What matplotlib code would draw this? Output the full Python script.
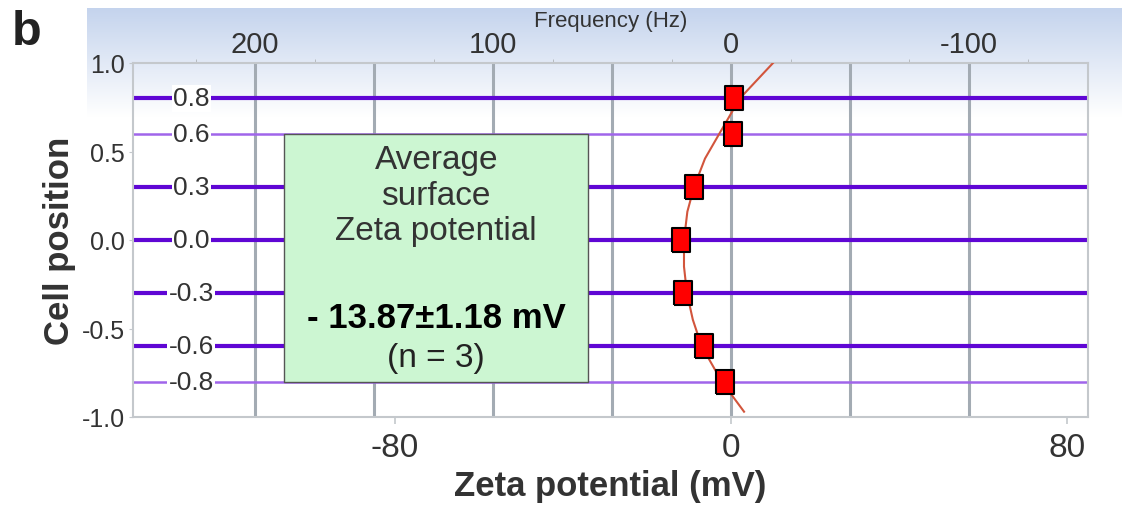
import numpy as np
import matplotlib.pyplot as plt
from matplotlib.path import Path

# measurement planes (cell position) and the zeta potential found at each
positions = [0.8, 0.6, 0.3, 0.0, -0.3, -0.6, -0.8]
position_labels = ["0.8", "0.6", "0.3", "0.0", "-0.3", "-0.6", "-0.8"]
thick_line = [True, False, True, True, True, True, False]
zeta = [0.6, 0.5, -8.7, -12.0, -11.5, -6.4, -1.5]

# fitted curve
fit_pos = [1.0, 0.8, 0.6, 0.46, 0.3, 0.16, 0.0, -0.15, -0.3, -0.45, -0.6, -0.8, -0.97]
fit_zeta = [10.0, 2.1, -2.8, -6.2, -8.8, -10.4, -11.2, -11.2, -10.5, -9.1, -7.0, -2.2, 3.1]

freq_ticks = [200, 100, 0, -100]
freq_minor = [225, 175, 125, 75, 25, -25, -75, -125]
freq_grid = [200, 150, 100, 50, 0, -50, -100]
zeta_ticks = [-80, 0, 80]
y_ticks = [-1.0, -0.5, 0.0, 0.5, 1.0]
y_ticklabels = ["-1.0", "-0.5", "0.0", "0.5", "1.0"]

hz_per_mv = 1.765

box_title = "Average\nsurface\nZeta potential"
box_value = "- 13.87\u00b11.18 mV"
box_n = "(n = 3)"

plt.rcParams["font.family"] = ["Liberation Sans", "DejaVu Sans"]
plt.rcParams["axes.unicode_minus"] = False

fig = plt.figure(figsize=(11.22, 5.1), dpi=100)

# blue gradient band across the top
band = fig.add_axes([87 / 1122, 1 - 118 / 510, 1 - 87 / 1122, 109 / 510], zorder=0)
grad = np.linspace(0, 1, 256).reshape(-1, 1)
top = np.array([0.77, 0.83, 0.93])
rgb = top[None, None, :] * (1 - grad[:, :, None]) + np.ones(3)[None, None, :] * grad[:, :, None]
band.imshow(rgb, aspect="auto", extent=[0, 1, 0, 1])
band.axis("off")

ax = fig.add_axes([133 / 1122, 1 - 418 / 510, (1088 - 133) / 1122, (418 - 64) / 510], zorder=1)
ax.set_facecolor("none")
ax.set_xlim(-142.4, 85)
ax.set_ylim(-1.0, 1.0)

for f in freq_grid:
    ax.axvline(-f / hz_per_mv, color="#a3abb3", lw=2.2, zorder=1)

for p, lab, thick in zip(positions, position_labels, thick_line):
    if thick:
        ax.axhline(p, color="#5f06d4", lw=3.0, zorder=2)
    else:
        ax.axhline(p, color="#a065ea", lw=1.8, zorder=2)
    ax.text(-128.5, p, lab, ha="center", va="center", fontsize=19, color="#333333",
            bbox=dict(facecolor="white", edgecolor="none", pad=1.0), zorder=3)

ax.plot(fit_zeta, fit_pos, color="#d2553c", lw=1.5, zorder=4)

rect = Path([(-0.8, -1), (0.8, -1), (0.8, 1), (-0.8, 1), (-0.8, -1)])
ax.plot(zeta, positions, ls="none", marker=rect, ms=17, mfc="#ff0000",
        mec="black", mew=1.5, zorder=5)

# info box
ax.fill_between([-106.4, -34.0], -0.8, 0.6, facecolor="#ccf6d2",
                edgecolor="#555555", lw=1.0, zorder=3)
ax.text(-70.2, 0.254, box_title, ha="center", va="center", fontsize=24,
        color="#333333", linespacing=1.2, zorder=6)
ax.text(-70.2, -0.44, box_value, ha="center", va="center", fontsize=25,
        fontweight="bold", color="black", zorder=6)
ax.text(-70.2, -0.665, box_n, ha="center", va="center", fontsize=24,
        color="#222222", zorder=6)

for s in ax.spines.values():
    s.set_color("#c4c8cc")
    s.set_linewidth(1.5)

ax.set_yticks(y_ticks)
ax.set_yticklabels(y_ticklabels)
ax.tick_params(axis="y", labelsize=18, labelcolor="#333333", color="#c4c8cc",
               length=3, pad=3)
ax.set_xticks(zeta_ticks)
ax.set_xticklabels([str(v) for v in zeta_ticks])
ax.tick_params(axis="x", labelsize=24, labelcolor="#333333", color="#c4c8cc",
               length=5, width=1.2, pad=6)

ax.set_xlabel("Zeta potential (mV)", fontsize=25, fontweight="bold",
              color="#333333", labelpad=4)
ax.set_ylabel("Cell position", fontsize=25, fontweight="bold",
              color="#333333", labelpad=4)

sec = ax.secondary_xaxis("top", functions=(lambda z: -z * hz_per_mv,
                                            lambda f: -f / hz_per_mv))
sec.set_xticks(freq_ticks)
sec.set_xticks(freq_minor, minor=True)
sec.tick_params(axis="x", which="major", labelsize=21, labelcolor="#333333",
                color="#a3abb3", length=0, pad=3.5)
sec.tick_params(axis="x", which="minor", color="#b0b4b8", length=3)
sec.spines["top"].set_visible(False)

fig.text(611 / 1122, 1 - 22 / 510, "Frequency (Hz)", fontsize=16,
         ha="center", va="center", color="#333333")
fig.text(12 / 1122, 1 - 45 / 510, "b", fontsize=35, fontweight="bold",
         ha="left", va="baseline", color="#222222")

fig.savefig("out.png", dpi=100)
